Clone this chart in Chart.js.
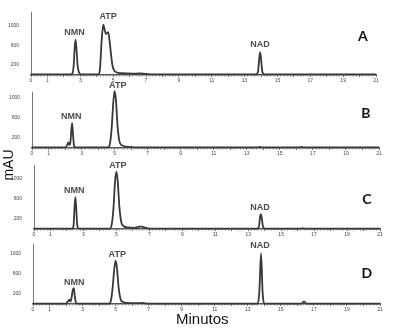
<!DOCTYPE html>
<html>
<head>
<meta charset="utf-8">
<script src="https://cdn.jsdelivr.net/npm/chart.js@4.4.1/dist/chart.umd.min.js"></script>
<style>
  html, body { margin: 0; padding: 0; background: #fff; }
  #wrap { position: relative; width: 399px; height: 333px; overflow: hidden; }
  #wrap canvas { position: absolute; left: 0; top: 0; }
  .title { position: absolute; font-family: "Liberation Sans", Arial, sans-serif; color: #111; white-space: nowrap; }
  #ylab { left: -9px; top: 157px; width: 34px; text-align: center; font-size: 14px; transform: rotate(-90deg); }
  #xlab { left: 176px; top: 310px; font-family: "Liberation Sans Narrow", "Liberation Sans", Arial, sans-serif; font-size: 15px; }
</style>
</head>
<body>
<div id="wrap">
  <canvas id="chartA" width="399" height="333"></canvas>
  <canvas id="chartB" width="399" height="333"></canvas>
  <canvas id="chartC" width="399" height="333"></canvas>
  <canvas id="chartD" width="399" height="333"></canvas>
  <div class="title" id="ylab">mAU</div>
  <div class="title" id="xlab">Minutos</div>
</div>
<script>
// retention time (min) and absorbance (mAU)
const timeA = [0, 2.4, 2.52, 2.6, 2.66, 2.71, 2.77, 2.84, 2.93, 3.05, 4.1, 4.2, 4.3, 4.4, 4.5, 4.56, 4.63, 4.7, 4.78, 4.87, 4.95, 5.05, 5.2, 5.5, 6.2, 6.6, 7.0, 7.5, 13.7, 13.82, 13.9, 13.95, 14.0, 14.08, 14.2, 21];
const mauA  = [0, 0, 20, 200, 560, 717, 520, 180, 30, 0, 0, 120, 700, 1027, 900, 835, 850, 876, 700, 420, 200, 90, 45, 25, 15, 22, 10, 0, 0, 60, 360, 455, 330, 60, 0, 0];

const timeB = [0, 2.0, 2.12, 2.2, 2.27, 2.33, 2.38, 2.43, 2.48, 2.55, 2.65, 4.6, 4.72, 4.82, 4.92, 5.0, 5.08, 5.18, 5.3, 5.45, 5.7, 6.5, 13.7, 13.8, 13.9, 16.2, 16.3, 16.4, 21];
const mauB  = [0, 0, 40, 100, 50, 120, 350, 488, 260, 30, 0, 0, 80, 380, 900, 1120, 950, 420, 110, 40, 15, 0, 0, 12, 0, 0, 12, 0, 0];

const timeC = [0, 2.3, 2.4, 2.46, 2.51, 2.56, 2.63, 2.72, 4.6, 4.72, 4.82, 4.92, 5.0, 5.08, 5.18, 5.3, 5.45, 5.7, 6.1, 6.3, 6.45, 6.6, 6.85, 7.2, 13.55, 13.65, 13.72, 13.77, 13.82, 13.9, 14.0, 16.2, 16.3, 16.4, 21];
const mauC  = [0, 0, 60, 420, 634, 420, 60, 0, 0, 90, 400, 950, 1146, 960, 450, 130, 50, 25, 15, 30, 46, 35, 12, 0, 0, 40, 230, 294, 220, 40, 0, 0, 10, 0, 0];

const timeD = [0, 2.0, 2.1, 2.2, 2.27, 2.33, 2.4, 2.47, 2.53, 2.6, 2.7, 4.6, 4.72, 4.82, 4.92, 5.0, 5.08, 5.18, 5.3, 5.45, 5.7, 6.3, 6.6, 7.0, 13.6, 13.7, 13.8, 13.9, 14.0, 16.25, 16.4, 16.55, 21];
const mauD  = [0, 0, 40, 79, 45, 110, 260, 311, 150, 20, 0, 0, 70, 320, 700, 857, 720, 330, 90, 35, 15, 10, 15, 0, 0, 250, 1004, 200, 0, 0, 46, 0, 0];

// peak names and where their labels sit (min, mAU)
const peakNamesA = ['NMN', 'ATP', 'NAD'];
const peakTimeA  = [2.65, 4.69, 13.94];
const peakMauA   = [872, 1198, 624];
const peakNamesB = ['NMN', 'ATP'];
const peakTimeB  = [2.38, 5.19];
const peakMauB   = [614, 1244];
const peakNamesC = ['NMN', 'ATP', 'NAD'];
const peakTimeC  = [2.44, 5.09, 13.71];
const peakMauC   = [770, 1270, 420];
const peakNamesD = ['NMN', 'ATP', 'NAD'];
const peakTimeD  = [2.5, 5.1, 13.74];
const peakMauD   = [416, 980, 1158];

const panelLetters = ['A', 'B', 'C', 'D'];
const yTickValues = [200, 600, 1000];
const xTickLabels = [0, 1, 3, 5, 7, 9, 11, 13, 15, 17, 19, 21];
//////////////////////////////////////////////////////////////////////////////////////////////////////////////////

// chart area of each panel in page pixels: left, right, top, bottom
const panelBox = [
    [31, 376, 12, 75],
    [32, 379, 92, 148],
    [34, 380, 165, 229],
    [33, 380, 244, 304]
];
const panelRange = [[-12, 1290], [-12, 1110], [-6, 1280], [-6, 1190]];

function peakLabels(names, times, vals) {
    return names.map((n, i) => ({ text: n, t: times[i], v: vals[i] }));
}

const labelPlugin = {
    id: 'peakLabels',
    afterDatasetsDraw(chart, args, opts) {
        const c = chart.ctx;
        const xs = chart.scales.x, ys = chart.scales.y;
        c.save();
        c.textAlign = 'center';
        c.textBaseline = 'middle';
        c.fillStyle = '#4d4d4d';
        c.font = 'bold 9px "Liberation Sans", Arial, sans-serif';
        opts.peaks.forEach(p => {
            c.fillText(p.text, xs.getPixelForValue(p.t), ys.getPixelForValue(p.v));
        });
        c.fillStyle = '#111';
        c.font = 'bold 14px Lato, "Open Sans", sans-serif';
        c.fillText(opts.letter, xs.getPixelForValue(opts.letterT), ys.getPixelForValue(opts.letterV));
        c.restore();
    }
};

function makePanel(id, i, times, vals, peaks, letterV) {
    const box = panelBox[i];
    const ctx = document.getElementById(id).getContext('2d');
    return new Chart(ctx, {
        type: 'scatter',
        data: {
            datasets: [{
                data: times.map((t, k) => ({ x: t, y: vals[k] })),
                showLine: true,
                borderColor: '#383838',
                borderWidth: 1.8,
                pointRadius: 0,
                cubicInterpolationMode: 'monotone',
                clip: false
            }]
        },
        options: {
            responsive: false,
            animation: false,
            events: [],
            layout: {
                padding: { left: 0, right: 399 - box[1], top: box[2], bottom: 333 - box[3] - 12 }
            },
            plugins: {
                legend: { display: false },
                tooltip: { enabled: false },
                peakLabels: { peaks: peaks, letter: panelLetters[i], letterT: 20.2, letterV: letterV }
            },
            scales: {
                x: {
                    type: 'linear',
                    position: 'bottom',
                    min: 0,
                    max: 21,
                    afterFit: function(scale) { scale.height = 12; },
                    afterBuildTicks: function(scale) {
                        const t = [];
                        for (let k = 0; k <= 105; k++) t.push({ value: k / 5 });
                        scale.ticks = t;
                    },
                    border: { display: true, color: '#555', width: 1.5 },
                    grid: {
                        drawOnChartArea: false,
                        tickLength: 2,
                        tickColor: function(c) {
                            return Number.isInteger(c.tick.value) ? '#666' : '#c8c8c8';
                        }
                    },
                    ticks: {
                        autoSkip: false,
                        maxRotation: 0,
                        padding: 1,
                        color: '#444',
                        font: { size: 5, family: '"Liberation Sans Narrow", "Liberation Sans", sans-serif' },
                        callback: function(value) {
                            return xTickLabels.includes(value) ? String(value) : '';
                        }
                    }
                },
                y: {
                    min: panelRange[i][0],
                    max: panelRange[i][1],
                    afterFit: function(scale) { scale.width = box[0]; },
                    afterBuildTicks: function(scale) {
                        scale.ticks = yTickValues.map(v => ({ value: v }));
                    },
                    border: { display: true, color: '#777', width: 1 },
                    grid: { display: false },
                    ticks: {
                        padding: 4,
                        color: '#444',
                        font: { size: 5, family: '"Liberation Sans Narrow", "Liberation Sans", sans-serif' },
                        callback: function(value) { return String(value); }
                    }
                }
            }
        },
        plugins: [labelPlugin]
    });
}

var chartA = makePanel('chartA', 0, timeA, mauA, peakLabels(peakNamesA, peakTimeA, peakMauA), 779);
var chartB = makePanel('chartB', 1, timeB, mauB, peakLabels(peakNamesB, peakTimeB, peakMauB), 684);
var chartC = makePanel('chartC', 2, timeC, mauC, peakLabels(peakNamesC, peakTimeC, peakMauC), 590);
var chartD = makePanel('chartD', 3, timeD, mauD, peakLabels(peakNamesD, peakTimeD, peakMauD), 594);
</script>
</body>
</html>
